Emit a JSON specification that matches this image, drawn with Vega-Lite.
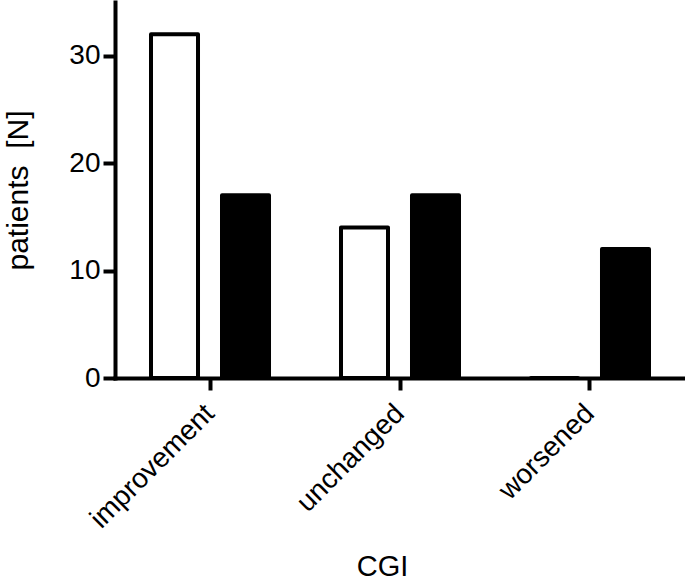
{
  "$schema": "https://vega.github.io/schema/vega-lite/v6.json",
  "width": 570,
  "height": 376,
  "autosize": "none",
  "padding": {"left": 115, "top": 2, "right": 0, "bottom": 204},
  "background": "white",
  "data": {
    "values": [
      {"CGI": "improvement", "group": "A", "patients": 32},
      {"CGI": "improvement", "group": "B", "patients": 17},
      {"CGI": "unchanged", "group": "A", "patients": 14},
      {"CGI": "unchanged", "group": "B", "patients": 17},
      {"CGI": "worsened", "group": "A", "patients": 0},
      {"CGI": "worsened", "group": "B", "patients": 12}
    ]
  },
  "mark": {"type": "bar", "stroke": "black", "strokeWidth": 4, "strokeJoin": "round"},
  "encoding": {
    "x": {
      "field": "CGI",
      "type": "nominal",
      "sort": ["improvement", "unchanged", "worsened"],
      "scale": {"paddingInner": 0.3789, "paddingOuter": 0.1895},
      "axis": {
        "title": "CGI",
        "labelAngle": -45,
        "labelAlign": "right",
        "labelBaseline": "middle",
        "labelPadding": 19,
        "titleX": 267,
        "titleY": 197,
        "titleBaseline": "alphabetic",
        "titleAnchor": "middle"
      }
    },
    "xOffset": {
      "field": "group",
      "type": "nominal",
      "scale": {"paddingInner": 0.338, "paddingOuter": 0}
    },
    "y": {
      "field": "patients",
      "type": "quantitative",
      "scale": {"domain": [0, 35], "nice": false},
      "axis": {
        "title": "patients\u00a0\u00a0[N]",
        "values": [0, 10, 20, 30],
        "labelPadding": 3,
        "titlePadding": 35,
        "titleFontSize": 30
      }
    },
    "color": {
      "field": "group",
      "type": "nominal",
      "scale": {"domain": ["A", "B"], "range": ["white", "black"]},
      "legend": null
    }
  },
  "config": {
    "view": {"stroke": null},
    "axis": {
      "grid": false,
      "domainColor": "black",
      "domainWidth": 4,
      "domainCap": "square",
      "tickColor": "black",
      "tickWidth": 4,
      "tickSize": 12,
      "labelFont": "Liberation Sans",
      "labelFontSize": 28,
      "labelColor": "black",
      "titleFont": "Liberation Sans",
      "titleFontSize": 29,
      "titleFontWeight": "normal",
      "titleColor": "black"
    }
  }
}
